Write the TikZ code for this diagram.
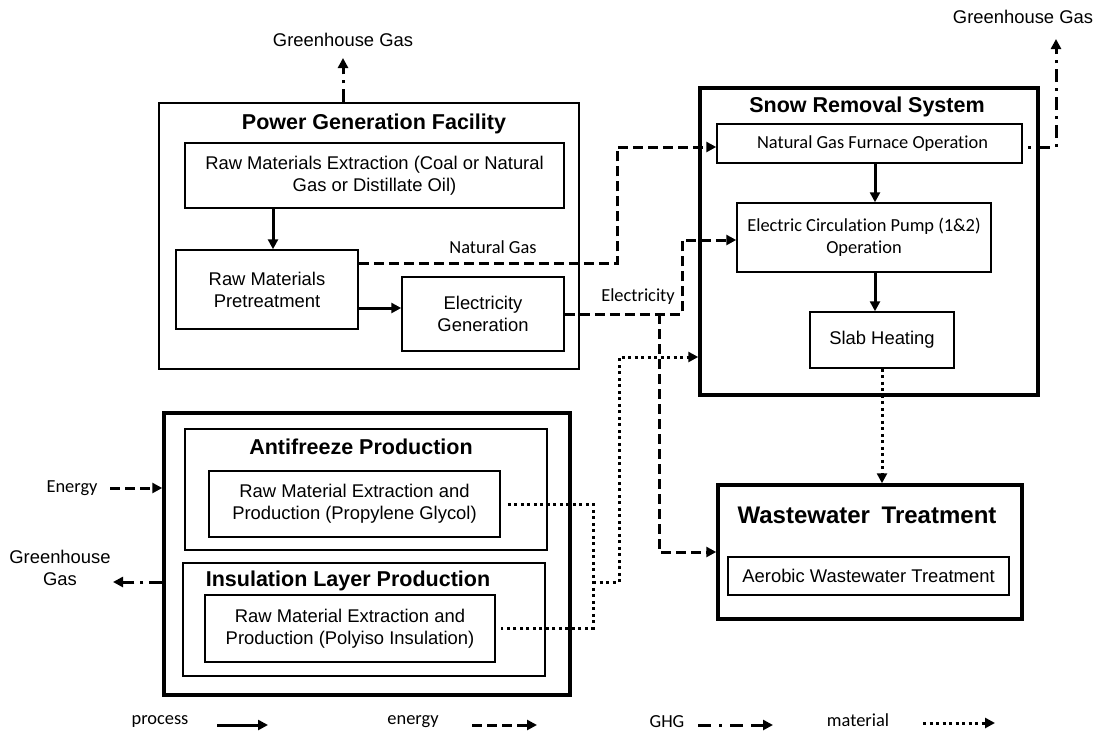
\documentclass[tikz,border=0pt]{standalone}
\usepackage{fontspec}
\setmainfont{Liberation Sans}
\newfontfamily\calibrifont[RawFeature=-liga]{Carlito}
\usetikzlibrary{arrows.meta}
\tikzset{
  txt/.style={font=\fontsize{18.4}{22}\selectfont, inner sep=0pt, align=center},
  ctxt/.style={font=\calibrifont\fontsize{18.4}{22}\selectfont, inner sep=0pt, align=center},
  ttl/.style={font=\fontsize{21.5}{25}\selectfont\bfseries, inner sep=0pt},
  thinbox/.style={draw, line width=1.5pt, rectangle, inner sep=0pt},
  thickbox/.style={draw, line width=3.5pt, rectangle, inner sep=0pt},
  tip/.style={-{Triangle[length=10pt,width=10pt]}},
  process/.style={line width=3pt, tip},
  energy/.style={line width=3pt, dash pattern=on 10pt off 5pt, tip},
  ghg/.style={line width=3pt, dash pattern=on 13pt off 6pt on 3pt off 6pt, tip},
  material/.style={line width=3pt, dash pattern=on 3pt off 3.5pt},
}
\begin{document}
\begin{tikzpicture}[x=1pt,y=-1pt]
\useasboundingbox (0,0) rectangle (1099,736);

% ---------- Power Generation Facility ----------
\node[thinbox, minimum width=420pt, minimum height=266pt] (pgf) at (369,236) {};
\node[ttl] (pgft) at (374,124) {Power Generation Facility};
\node[thinbox, minimum width=379pt, minimum height=65pt, txt] (extract) at (374.5,175.5)
  {Raw Materials Extraction (Coal or Natural\\Gas or Distillate Oil)};
\node[thinbox, minimum width=182pt, minimum height=79pt, txt] (pretreat) at (267,289.5)
  {Raw Materials\\Pretreatment};
\node[thinbox, minimum width=162pt, minimum height=74pt, txt] (elecgen) at (483,314)
  {Electricity\\Generation};

% ---------- Snow Removal System ----------
\node[thickbox, minimum width=338pt, minimum height=307pt] (srs) at (869,241.5) {};
\node[ttl] (srst) at (867,107) {Snow Removal System};
\node[thinbox, minimum width=305pt, minimum height=39pt, ctxt] (furnace) at (869.5,143.5)
  {\hspace{6pt}Natural Gas Furnace Operation};
\node[thinbox, minimum width=254pt, minimum height=69pt, ctxt] (pump) at (864,237.5)
  {Electric Circulation Pump (1\&2)\\Operation};
\node[thinbox, minimum width=144pt, minimum height=56pt, txt] (slab) at (882,340)
  {Slab Heating};

% ---------- Wastewater Treatment ----------
\node[thickbox, minimum width=304pt, minimum height=134pt] (ww) at (870,552) {};
\node[font=\fontsize{24}{28}\selectfont\bfseries, inner sep=0pt] (wwt) at (867,515)
  {Wastewater\hspace{5pt} Treatment};
\node[thinbox, minimum width=281pt, minimum height=38pt, txt] (aerobic) at (868.5,576)
  {Aerobic Wastewater Treatment};

% ---------- Lower block ----------
\node[thickbox, minimum width=406pt, minimum height=282pt] (lower) at (367,554) {};
\node[thinbox, minimum width=362pt, minimum height=121pt] (anti) at (366,489.5) {};
\node[ttl] (antit) at (361,447) {Antifreeze Production};
\node[thinbox, minimum width=291pt, minimum height=66pt, txt] (pginner) at (354.5,504)
  {Raw Material Extraction and\\Production (Propylene Glycol)};
\node[thinbox, minimum width=362pt, minimum height=113pt] (insul) at (364,619.5) {};
\node[ttl] (insult) at (348,581) {Insulation Layer Production};
\node[thinbox, minimum width=290pt, minimum height=67pt, txt] (polyiso) at (350,628.5)
  {Raw Material Extraction and\\Production (Polyiso Insulation)};

% ---------- free labels ----------
\node[txt] (gh1) at (343,40) {Greenhouse Gas};
\node[txt] (gh2) at (1023,17) {Greenhouse Gas};
\node[txt] (gh3) at (60,568) {Greenhouse\\Gas};
\node[ctxt] (enl) at (72,488) {Energy};
\node[ctxt] (ngl) at (493,247) {Natural Gas};
\node[ctxt] (ell) at (638,297) {Electricity};

% ---------- process arrows ----------
\draw[process] ([xshift=6pt]pretreat.north |- extract.south) -- ([xshift=6pt]pretreat.north);
\draw[process] ([yshift=-18.5pt]pretreat.east) -- ([yshift=-18.5pt]pretreat.east -| elecgen.west);
\draw[process] ([xshift=5.5pt]furnace.south) -- ([xshift=5.5pt]furnace.south |- pump.north);
\draw[process] ([xshift=11pt]pump.south) -- ([xshift=11pt]pump.south |- slab.north);

% ---------- energy arrows ----------
\coordinate (ngc) at (617,147);
\draw[energy] ([yshift=26.5pt]pretreat.east) -| (ngc) -- (ngc -| furnace.west);
\coordinate (elc) at (682,240);
\draw[energy] (elecgen.east) -| (elc) -- (elc -| pump.west);
\coordinate (elb) at (659,314);
\draw[energy] (elb) |- (ww.west);
\coordinate (e0) at (110,488);
\draw[energy] (e0) -- (e0 -| lower.west);

% ---------- GHG arrows ----------
\coordinate (g1) at (343,58);
\draw[ghg] (pgf.north -| g1) -- (g1);
\coordinate (g2) at (1056,39);
\coordinate (g2s) at (1027,147);
\draw[ghg, dash phase=-10pt] (g2s) -| (g2);
\coordinate (g3) at (113,582);
\draw[ghg] (g3 -| lower.west) -- (g3);

% ---------- material arrows ----------
\coordinate (m1) at (593,504);
\coordinate (m2) at (593,628);
\coordinate (mj) at (593,582);
\coordinate (m3) at (619,582);
\coordinate (m4) at (619,357);
\draw[material] ([xshift=7pt]pginner.east) -- (m1) -- (m2) -- ([xshift=5pt]polyiso.east |- m2);
\draw[material, tip] (mj) -- (m3) -- (m4) -- (m4 -| srs.west);
\draw[material, tip] (slab.south) -- (slab.south |- ww.north);

% ---------- legend ----------
\node[ctxt] (lp) at (160,722) {process};
\node[ctxt] (le) at (413,722) {energy};
\node[ctxt] (lg) at (667,722) {GHG};
\node[ctxt] (lm) at (858,720) {material};
\coordinate (lpa) at (217,725); \coordinate (lpb) at (268,725);
\coordinate (lea) at (472,725); \coordinate (leb) at (537,725);
\coordinate (lga) at (698,725); \coordinate (lgb) at (773,725);
\coordinate (lma) at (923,723); \coordinate (lmb) at (995,723);
\draw[process] (lpa) -- (lpb);
\draw[energy] (lea) -- (leb);
\draw[line width=3pt, dash pattern=on 13pt off 8pt on 3pt off 8pt on 13pt off 8pt, tip] (lga) -- (lgb);
\draw[material, tip] (lma) -- (lmb);
\end{tikzpicture}
\end{document}
